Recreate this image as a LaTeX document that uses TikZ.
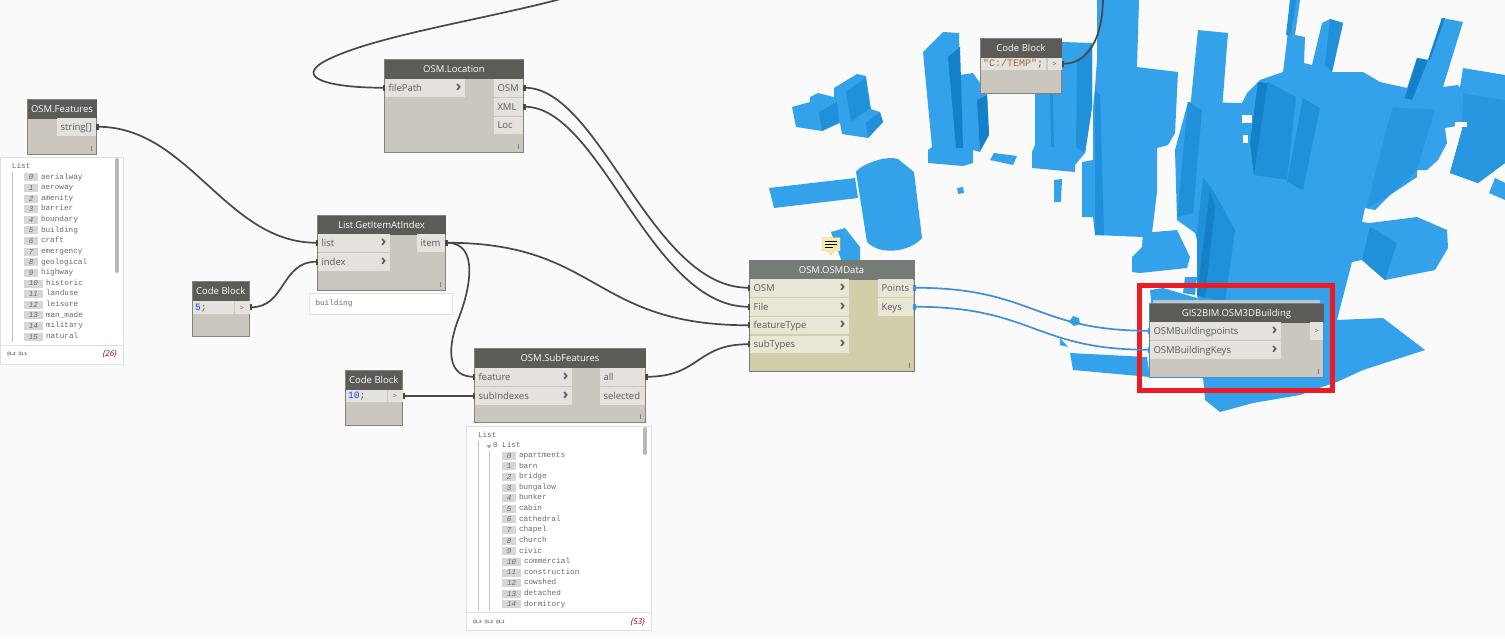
\documentclass[tikz,border=0pt]{standalone}
\usepackage{fontspec}
\setmainfont{Open Sans}
\setmonofont{Liberation Mono}
\usepackage{tikz}
\usetikzlibrary{arrows.meta,positioning}
\definecolor{canvas}{HTML}{FAFAFA}
\definecolor{bldlight}{HTML}{34A2EA}
\definecolor{bldmid}{HTML}{2190DA}
\definecolor{blddark}{HTML}{1380C8}
\definecolor{nodetitle}{HTML}{5D5B58}
\definecolor{nodebody}{HTML}{CBC7BF}
\definecolor{noderow}{HTML}{E5E2DD}
\definecolor{nodeedge}{HTML}{85827C}
\definecolor{nodetext}{HTML}{5A5A5A}
\definecolor{wiregray}{HTML}{4A4846}
\definecolor{wireblue}{HTML}{3F90DA}
\definecolor{osmtitle}{HTML}{757C75}
\definecolor{osmbody}{HTML}{D3CEAA}
\definecolor{osmrow}{HTML}{E9E6D6}
\definecolor{markred}{HTML}{ED1C24}
\definecolor{idxgray}{HTML}{D6D6D6}
\definecolor{listtext}{HTML}{6A6A6A}
\definecolor{notefill}{HTML}{FCEBA8}
\definecolor{noteedge}{HTML}{E6C66E}
\newcommand{\chev}{\hfill{\color{nodetitle}\bfseries\fontsize{15}{15}\selectfont ›}}
\begin{document}
\begin{tikzpicture}[
  x=1pt, y=-1pt,
  every node/.style={outer sep=0pt},
  bldg/.style={fill=bldlight},
  bldgmid/.style={fill=bldmid},
  bldgsoft/.style={fill=bldmid!60!bldlight},
  bldgdark/.style={fill=blddark},
  dynbody/.style={draw=nodeedge, line width=0.8pt, fill=nodebody, anchor=north west,
                  inner sep=0pt},
  dyntitle/.style={fill=nodetitle, anchor=north, minimum height=19.5pt, inner sep=0pt,
                   text height=8.5pt, text depth=2.5pt,
                   text=white, font=\fontsize{9.5}{10}\selectfont},
  inrow/.style={fill=noderow, anchor=north west, minimum height=17.5pt, inner ysep=0pt,
                inner xsep=3.5pt, text width=#1, text height=9pt, text depth=2pt,
                text=nodetext, font=\fontsize{9.5}{10}\selectfont},
  outrow/.style={inrow=#1},
  osmin/.style={inrow=#1, fill=osmrow},
  coderow/.style={fill=noderow, anchor=north west, minimum height=12.5pt, inner ysep=0pt,
                  inner xsep=2pt, text width=#1, text height=7.5pt, text depth=2pt,
                  text=nodetext, font=\ttfamily\fontsize{9.6}{10}\selectfont},
  wire/.style={line width=1.7pt, wiregray,
               {Square[length=2.5pt,width=6pt]}-{Square[length=2.5pt,width=6pt]}},
  bluewire/.style={wire, wireblue},
  gripmark/.style={nodeedge, line width=0.8pt},
  watch/.style={draw=black!12, fill=white, anchor=north west, inner sep=0pt},
  idx/.style={fill=idxgray, anchor=west, minimum height=8pt, minimum width=14pt, inner sep=0pt,
              text=listtext, font=\ttfamily\itshape\fontsize{7.5}{8}\selectfont},
  idxw/.style={idx, minimum width=19pt},
  itm/.style={anchor=west, inner sep=0pt, text=listtext, text height=5pt, text depth=1.5pt,
              font=\ttfamily\fontsize{7.7}{8}\selectfont},
  tiny/.style={anchor=west, inner sep=0pt, text=listtext,
               font=\ttfamily\bfseries\fontsize{4.8}{5}\selectfont},
  count/.style={anchor=east, inner sep=0pt, text=red!45!black,
                font=\itshape\fontsize{8}{9}\selectfont},
  treeline/.style={black!25, line width=0.7pt},
  scrollbar/.style={black!28, line width=4pt, line cap=round},
]
\useasboundingbox (0,0) rectangle (1505,638);
\fill[canvas] (0,0) rectangle (1505,638);

% Buildings behind the graph
\fill[bldg] (792,107) -- (810,102) -- (810,97) -- (818,93) -- (834,97) -- (834,88) -- (857,74) -- (866,76) -- (871,109) -- (880,112) -- (883,122) -- (868,138) -- (842,134) -- (840,123) -- (822,131) -- (796,127) -- cycle;
\fill[bldgmid] (846,92) -- (865,78) -- (870,108) -- (851,122) -- cycle;
\fill[bldgmid] (819,112) -- (837,102) -- (839,122) -- (822,131) -- cycle;
\fill[bldgmid] (866,122) -- (880,113) -- (883,122) -- (868,138) -- cycle;

\fill[bldg] (923,52) -- (943,32) -- (959,33) -- (960,75) -- (973,73) -- (987,93) -- (989,135) -- (980,152) -- (973,150) -- (973,163) -- (963,166) -- (928,163) -- (928,150) -- (932,147) -- cycle;
\fill[bldgdark] (948,57) -- (960,47) -- (963,148) -- (956,148) -- cycle;
\fill[bldgdark] (977,100) -- (987,95) -- (989,135) -- (980,150) -- cycle;

\fill[bldg] (1035,60) -- (1062,42) -- (1092,43) -- (1092,107) -- (1085,153) -- (1075,165) -- (1075,172) -- (1032,168) -- (1032,152) -- (1035,145) -- cycle;
\fill[bldgmid] (1077,63) -- (1092,43) -- (1092,107) -- (1085,153) -- (1076,147) -- cycle;
\fill[bldgmid] (1050,93) -- (1053,93) -- (1054,147) -- (1051,147) -- cycle;

\fill[bldg] (990,160) -- (994,153) -- (1017,156) -- (1013,165) -- cycle;
\fill[bldg] (957,188) -- (963,187) -- (964,193) -- (958,194) -- cycle;
\fill[bldg] (1054,180) -- (1062,179) -- (1061,202) -- (1054,202) -- cycle;
\fill[bldg] (769,188) -- (855,178) -- (858,198) -- (774,208) -- cycle;
\fill[bldg] (856,172) .. controls (860,165) and (885,155) .. (898,159) -- (914,172) -- (922,238) .. controls (910,252) and (880,256) .. (867,242) -- cycle;
\fill[bldg] (831,232) -- (845,228) -- (860,247) -- (860,262) -- (842,262) -- cycle;

\fill[bldg] (1097,0) -- (1139,0) -- (1137,67) -- (1178,72) -- (1175,133) -- (1168,145) -- (1157,148) -- (1157,192) -- (1152,233) -- (1143,237) -- (1095,235) -- (1093,217) -- (1082,217) -- (1082,197) -- (1082,162) -- (1093,160) -- (1093,107) -- (1095,88) -- (1097,60) -- cycle;
\fill[bldgmid] (1095,90) -- (1100,95) -- (1104,235) -- (1095,235) -- cycle;
\fill[bldg] (1198,30) -- (1228,33) -- (1222,110) -- (1190,110) -- cycle;

\fill[bldg] (1188,102) -- (1242,103) -- (1247,93) -- (1260,80) -- (1283,72) -- (1287,40) -- (1290,0) -- (1300,0) -- (1295,35) -- (1305,37) -- (1304,63) -- (1312,65) -- (1322,23) -- (1330,19) -- (1343,23) -- (1332,72) -- (1363,72) -- (1380,82) -- (1407,88) -- (1417,58) -- (1428,60) -- (1442,18) -- (1463,22) -- (1443,87) -- (1458,85) -- (1463,93) -- (1462,125) -- (1445,128) -- (1447,143) -- (1438,160) -- (1427,170) -- (1417,170) -- (1417,177) -- (1390,195) -- (1375,210) -- (1365,208) -- (1362,222) -- (1370,223) -- (1417,217) -- (1447,230) -- (1448,248) -- (1435,270) -- (1385,280) -- (1362,260) -- (1352,262) -- (1337,320) -- (1383,318) -- (1425,350) -- (1363,370) -- (1337,382) -- (1322,387) -- (1300,395) -- (1253,403) -- (1220,412) -- (1205,400) -- (1203,377) -- (1197,293) -- (1203,260) -- (1195,233) -- (1177,220) -- (1175,150) -- cycle;
\fill[bldg] (1463,68) -- (1505,75) -- (1505,163) -- (1478,183) -- (1450,173) -- (1462,130) -- (1458,100) -- cycle;
\fill[bldg] (1495,178) -- (1505,183) -- (1505,200) -- (1489,193) -- cycle;
\fill[bldg] (1143,233) -- (1177,230) -- (1190,257) -- (1187,268) -- (1140,273) -- (1132,272) -- (1132,257) -- (1142,247) -- cycle;
\fill[bldg] (1185,277) -- (1197,277) -- (1195,295) -- (1183,293) -- cycle;
\fill[bldg] (1150,290) -- (1163,288) -- (1197,298) -- (1197,320) -- (1152,310) -- cycle;
\fill[bldg] (1070,353) -- (1147,357) -- (1150,377) -- (1073,370) -- cycle;
\fill[bldg] (1060,338) -- (1068,347) -- (1060,345) -- cycle;
\fill[bldg] (1073,316) -- (1079,318) -- (1080,324) -- (1074,326) -- (1069,322) -- cycle;

\fill[bldgmid] (1188,102) -- (1202,110) -- (1193,213) -- (1177,217) -- cycle;
\fill[bldgdark] (1258,82) -- (1268,83) -- (1254,175) -- (1250,143) -- cycle;
\fill[bldgmid] (1268,82) -- (1296,97) -- (1287,180) -- (1254,175) -- cycle;
\fill[bldgmid] (1303,98) -- (1320,108) -- (1303,190) -- (1287,182) -- cycle;
\fill[bldgmid] (1290,0) -- (1296,0) -- (1291,35) -- (1286,35) -- cycle;
\fill[bldgmid] (1330,19) -- (1343,23) -- (1332,72) -- (1325,65) -- cycle;
\fill[bldgdark] (1417,58) -- (1428,60) -- (1412,100) -- (1405,98) -- cycle;
\fill[bldgdark] (1442,18) -- (1445,18) -- (1430,60) -- (1428,60) -- cycle;
\fill[bldgsoft] (1393,107) -- (1435,110) -- (1417,170) -- (1390,195) -- (1367,208) -- (1373,182) -- (1387,127) -- cycle;
\fill[bldgsoft] (1472,95) -- (1505,100) -- (1505,163) -- (1478,183) -- (1450,173) -- cycle;
\fill[bldgmid] (1203,177) -- (1213,190) -- (1235,230) -- (1225,302) -- (1197,295) -- (1197,233) -- cycle;
\fill[bldgdark] (1210,190) -- (1215,207) -- (1205,298) -- (1197,295) -- cycle;
\fill[bldgmid] (1370,227) -- (1397,243) -- (1385,280) -- (1362,260) -- cycle;
\fill[bldgsoft] (1463,93) -- (1477,97) -- (1450,173) -- (1462,130) -- cycle;
\fill[canvas] (1242,115) rectangle (1252,123);
\fill[canvas] (1243,135) rectangle (1248,143);
\fill[canvas] (1455,122) rectangle (1467,127);

% Red mark round the last node
\node[draw=markred, line width=5pt, anchor=north west, inner sep=0pt,
      minimum width=193pt, minimum height=105pt] (markframe) at (1139.5,285.5) {};

% OSM.Features
\node[dynbody, minimum width=69pt, minimum height=55pt] (featbody) at (27.5,99.5) {};
\node[dyntitle, minimum width=69pt] (feattitle) at (featbody.north) {OSM.Features};
\node[outrow=32pt] (featout) at (57,118) {string[]};
\draw[gripmark] ([shift={(-5,-9)}]featbody.south east) -- ++(0,5);

% first watch list
\node[watch, minimum width=123pt, minimum height=207pt] (watchone) at (0.5,157.5) {};
\draw[black!12] (0.5,345) -- (123.5,345);
\node[itm] (lista) at (12,167) {List};
\draw[treeline] (12.5,172) -- (12.5,342);
\draw[scrollbar] (116.5,160) -- (116.5,271);
\node[idx] (fi0) at (24,177.3) {0};        \node[itm, right=3pt of fi0] (ft0) {aerialway};
\node[idx] (fi1) at (24,187.9) {1};        \node[itm, right=3pt of fi1] (ft1) {aeroway};
\node[idx] (fi2) at (24,198.5) {2};        \node[itm, right=3pt of fi2] (ft2) {amenity};
\node[idx] (fi3) at (24,209.2) {3};        \node[itm, right=3pt of fi3] (ft3) {barrier};
\node[idx] (fi4) at (24,219.8) {4};        \node[itm, right=3pt of fi4] (ft4) {boundary};
\node[idx] (fi5) at (24,230.4) {5};        \node[itm, right=3pt of fi5] (ft5) {building};
\node[idx] (fi6) at (24,241.0) {6};        \node[itm, right=3pt of fi6] (ft6) {craft};
\node[idx] (fi7) at (24,251.6) {7};        \node[itm, right=3pt of fi7] (ft7) {emergency};
\node[idx] (fi8) at (24,262.3) {8};        \node[itm, right=3pt of fi8] (ft8) {geological};
\node[idx] (fi9) at (24,272.9) {9};        \node[itm, right=3pt of fi9] (ft9) {highway};
\node[idxw] (fi10) at (24,283.5) {10};     \node[itm, right=3pt of fi10] (ft10) {historic};
\node[idxw] (fi11) at (24,294.1) {11};     \node[itm, right=3pt of fi11] (ft11) {landuse};
\node[idxw] (fi12) at (24,304.7) {12};     \node[itm, right=3pt of fi12] (ft12) {leisure};
\node[idxw] (fi13) at (24,315.4) {13};     \node[itm, right=3pt of fi13] (ft13) {man\_made};
\node[idxw] (fi14) at (24,326.0) {14};     \node[itm, right=3pt of fi14] (ft14) {military};
\node[idxw] (fi15) at (24,336.6) {15};     \node[itm, right=3pt of fi15] (ft15) {natural};
\node[tiny] (lvlone) at (7,354) {@L2 @L1};
\node[count] (countone) at (117,354) {\{26\}};

% Code Block 5
\node[dynbody, minimum width=56.5pt, minimum height=55pt] (fivebody) at (192.5,281.5) {};
\node[dyntitle, minimum width=56.5pt] (fivetitle) at (fivebody.north) {Code Block};
\node[coderow=37pt] (fivecode) at (193,301) {\textcolor{blue!70!cyan}{5};};
\node[coderow=11pt, font=\fontsize{7}{8}\selectfont, align=center] (fiveout) at (234.5,301) {>};

% OSM.Location
\node[dynbody, minimum width=139pt, minimum height=93pt] (locbody) at (384.5,59.5) {};
\node[dyntitle, minimum width=139pt] (loctitle) at (locbody.north) {OSM.Location};
\node[inrow=73pt] (locfile) at (385,79) {filePath\chev};
\node[outrow=22pt] (locosm) at (494,79) {OSM};
\node[outrow=22pt] (locxml) at (494,98) {XML};
\node[outrow=22pt] (locloc) at (494,116.5) {Loc};
\draw[gripmark] ([shift={(-5,-9)}]locbody.south east) -- ++(0,5);

% List.GetItemAtIndex
\node[dynbody, minimum width=128pt, minimum height=75pt] (getbody) at (317.5,215.5) {};
\node[dyntitle, minimum width=128pt] (gettitle) at (getbody.north) {List.GetItemAtIndex};
\node[inrow=65pt] (getlist) at (318,234) {list\chev};
\node[inrow=65pt] (getindex) at (318,253) {index\chev};
\node[outrow=21pt] (getitem) at (417,234) {item};
\draw[gripmark] ([shift={(-5,-9)}]getbody.south east) -- ++(0,5);
\node[draw=black!12, fill=white, anchor=north west, minimum width=143pt, minimum height=21pt,
      inner xsep=6pt, inner ysep=0pt, text width=131pt, text=listtext,
      font=\ttfamily\fontsize{7.7}{8}\selectfont] (getnote) at (309.5,293.5) {building};

% Code Block 10
\node[dynbody, minimum width=56.5pt, minimum height=55pt] (tenbody) at (345.5,370.5) {};
\node[dyntitle, minimum width=56.5pt] (tentitle) at (tenbody.north) {Code Block};
\node[coderow=37pt] (tencode) at (346,389.5) {\textcolor{blue!70!cyan}{10};};
\node[coderow=11pt, font=\fontsize{7}{8}\selectfont, align=center] (tenout) at (387.5,389.5) {>};

% OSM.SubFeatures
\node[dynbody, minimum width=171pt, minimum height=74pt] (subbody) at (474.5,348.5) {};
\node[dyntitle, minimum width=171pt] (subtitle) at (subbody.north) {OSM.SubFeatures};
\node[inrow=90pt] (subfeat) at (475,368) {feature\chev};
\node[inrow=90pt] (subidx) at (475,387) {subIndexes\chev};
\node[outrow=38pt] (suball) at (600,368) {all};
\node[outrow=38pt] (subsel) at (600,387) {selected};
\draw[gripmark] ([shift={(-5,-9)}]subbody.south east) -- ++(0,5);

% second watch list
\node[watch, minimum width=185pt, minimum height=204pt] (watchtwo) at (466.5,426) {};
\draw[black!12] (466.5,612) -- (651.5,612);
\node[itm] (listb) at (478,436) {List};
\draw[treeline] (478.5,441) -- (478.5,610);
\draw[treeline] (489.5,451) -- (489.5,610);
\fill[wireblue!70] (486.5,445) -- (491.5,445) -- (489,448.5) -- cycle;
\node[itm] (listc) at (493,445.7) {0 List};
\draw[scrollbar] (645,429) -- (645,453);
\node[idx] (si0) at (502,455.7) {0};       \node[itm, right=3pt of si0] (st0) {apartments};
\node[idx] (si1) at (502,466.3) {1};       \node[itm, right=3pt of si1] (st1) {barn};
\node[idx] (si2) at (502,476.9) {2};       \node[itm, right=3pt of si2] (st2) {bridge};
\node[idx] (si3) at (502,487.6) {3};       \node[itm, right=3pt of si3] (st3) {bungalow};
\node[idx] (si4) at (502,498.2) {4};       \node[itm, right=3pt of si4] (st4) {bunker};
\node[idx] (si5) at (502,508.8) {5};       \node[itm, right=3pt of si5] (st5) {cabin};
\node[idx] (si6) at (502,519.4) {6};       \node[itm, right=3pt of si6] (st6) {cathedral};
\node[idx] (si7) at (502,530.0) {7};       \node[itm, right=3pt of si7] (st7) {chapel};
\node[idx] (si8) at (502,540.7) {8};       \node[itm, right=3pt of si8] (st8) {church};
\node[idx] (si9) at (502,551.3) {9};       \node[itm, right=3pt of si9] (st9) {civic};
\node[idxw] (si10) at (502,561.9) {10};    \node[itm, right=3pt of si10] (st10) {commercial};
\node[idxw] (si11) at (502,572.5) {11};    \node[itm, right=3pt of si11] (st11) {construction};
\node[idxw] (si12) at (502,583.1) {12};    \node[itm, right=3pt of si12] (st12) {cowshed};
\node[idxw] (si13) at (502,593.8) {13};    \node[itm, right=3pt of si13] (st13) {detached};
\node[idxw] (si14) at (502,604.4) {14};    \node[itm, right=3pt of si14] (st14) {dormitory};
\node[tiny] (lvltwo) at (473,622) {@L3 @L2 @L1};
\node[count] (counttwo) at (645,622) {\{53\}};

% Code Block path
\node[dynbody, minimum width=81pt, minimum height=55pt] (tempbody) at (980.5,38.5) {};
\node[dyntitle, minimum width=81pt] (temptitle) at (tempbody.north) {Code Block};
\node[coderow=61pt, font=\ttfamily\fontsize{10}{10}\selectfont] (tempcode) at (981,57.5) {\textcolor{brown!85!black}{"C:/TEMP"};};
\node[coderow=10pt, font=\fontsize{7}{8}\selectfont, align=center] (tempout) at (1047.5,57.5) {>};

% OSM.OSMData
\node[dynbody, draw=osmtitle, fill=osmbody, minimum width=165pt, minimum height=111pt] (databody) at (749,260.5) {};
\node[dyntitle, fill=osmtitle, minimum width=165pt] (datatitle) at (databody.north) {OSM.OSMData};
\node[osmin=92pt] (dataosm) at (750,279) {OSM\chev};
\node[osmin=92pt] (datafile) at (750,298) {File\chev};
\node[osmin=92pt] (datatype) at (750,316.5) {featureType\chev};
\node[osmin=92pt] (datasub) at (750,335.5) {subTypes\chev};
\node[osmin=28pt] (datapts) at (878,279) {Points};
\node[osmin=28pt] (datakeys) at (878,298) {Keys};
\draw[gripmark, osmtitle] ([shift={(-5,-9)}]databody.south east) -- ++(0,5);

% note marker
\fill[fill=notefill, draw=noteedge] (822,237.5) -- (840,237.5) -- (840,251) -- (834,251) -- (831,255) -- (828,251) -- (822,251) -- cycle;
\draw[black, line width=0.8pt] (825,241) -- (837,241) (825,244) -- (837,244) (825,247) -- (833,247);

% GIS2BIM.OSM3DBuilding
\fill[nodebody, draw=black!25] (1153,300.5) rectangle (1319,304);
\node[dynbody, draw=wireblue!70!gray, minimum width=174pt, minimum height=74pt] (gisbody) at (1149.5,303.5) {};
\node[dyntitle, minimum width=174pt] (gistitle) at (gisbody.north) {GIS2BIM.OSM3DBuilding};
\node[inrow=124pt] (gispts) at (1150,322) {OSMBuildingpoints\chev};
\node[inrow=124pt] (giskeys) at (1150,341) {OSMBuildingKeys\chev};
\node[coderow=9pt, font=\fontsize{7}{8}\selectfont, minimum height=18pt, align=center] (gisout) at (1310,322) {>};
\draw[gripmark] ([shift={(-5,-9)}]gisbody.south east) -- ++(0,5);

% Wires
\coordinate (offtopa) at (1103,-3);
\coordinate (offtopb) at (568,-3);
\coordinate (bendloc) at (327,60);
\coordinate (benditem) at (458,320);
\draw[line width=1.7pt, wiregray, {Square[length=2.5pt,width=6pt]}-] (tempout.east) .. controls +(26,0) and +(0,42) .. (offtopa);
\draw[line width=1.7pt, wiregray, -{Square[length=2.5pt,width=6pt]}] (offtopb) .. controls +(-80,22) and +(50,-25) .. (bendloc) .. controls +(-35,18) and +(-55,0) .. (locfile.west);
\draw[wire] (featout.east) .. controls +(93,0) and +(-92,0) .. (getlist.west);
\draw[wire] (fiveout.east) .. controls +(36,0) and +(-37,0) .. (getindex.west);
\draw[wire] (locosm.east) .. controls +(77,0) and +(-99,0) .. (dataosm.west);
\draw[wire] (locxml.east) .. controls +(77,0) and +(-99,0) .. (datafile.west);
\draw[wire] (getitem.east) .. controls +(155,0) and +(-159,0) .. (datatype.west);
\draw[wire] (getitem.east) .. controls +(35,0) and +(12,-30) .. (benditem) .. controls +(-13,35) and +(-24,0) .. (subfeat.west);
\draw[wire] (tenout.east) -- (subidx.west);
\draw[wire] (suball.east) .. controls +(55,0) and +(-54,0) .. (datasub.west);
\draw[bluewire] (datapts.east) .. controls +(120,0) and +(-115,0) .. (gispts.west);
\draw[bluewire] (datakeys.east) .. controls +(120,0) and +(-115,0) .. (giskeys.west);
\end{tikzpicture}
\end{document}
